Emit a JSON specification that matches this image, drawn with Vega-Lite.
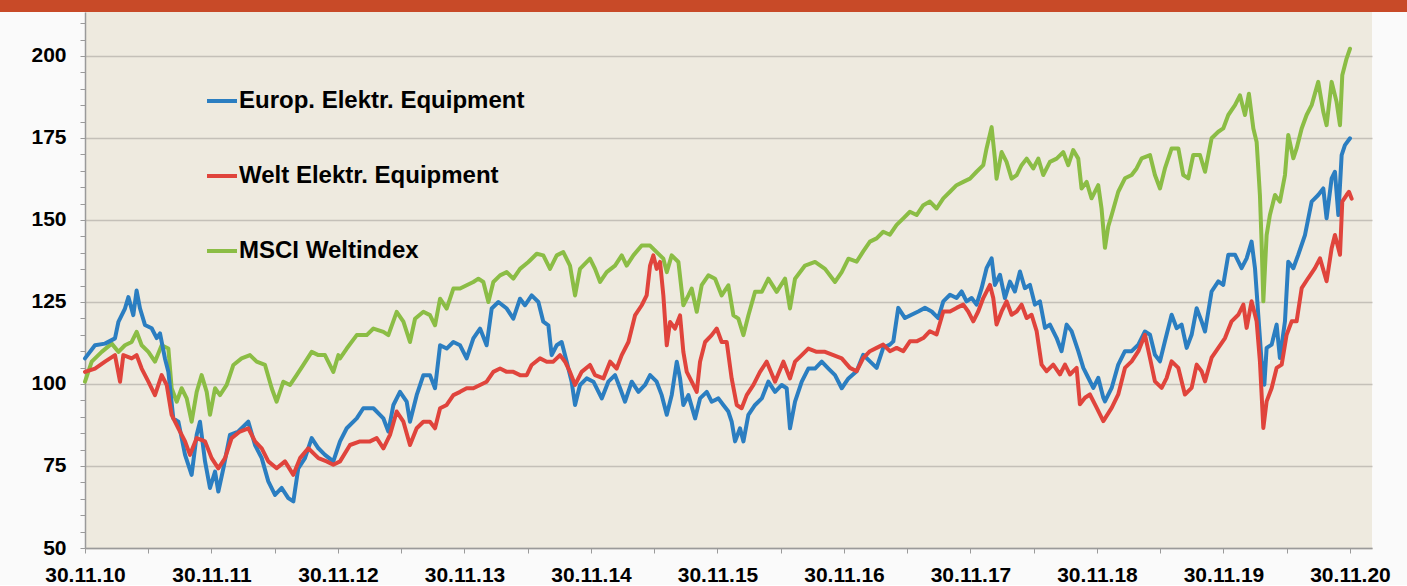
{
  "$schema": "https://vega.github.io/schema/vega-lite/v6.json",
  "background": "#FAFAFA",
  "padding": 0,
  "spacing": 0,
  "config": {"view": {"stroke": null}, "concat": {"spacing": 0}},
  "datasets": {
    "europ": [
      {"t":0,"v":107.8},{"t":0.079,"v":111.8},{"t":0.158,"v":112.3},{"t":0.237,"v":113.9},{"t":0.264,"v":118.9},{"t":0.316,"v":123},{"t":0.343,"v":126.5},{"t":0.382,"v":121},{"t":0.408,"v":128.5},{"t":0.435,"v":123},{"t":0.474,"v":118},{"t":0.527,"v":117},{"t":0.567,"v":114},{"t":0.593,"v":115.4},{"t":0.632,"v":107.8},{"t":0.659,"v":103.7},{"t":0.698,"v":89.5},{"t":0.738,"v":88.5},{"t":0.791,"v":78.4},{"t":0.843,"v":72.3},{"t":0.883,"v":84.5},{"t":0.909,"v":88.5},{"t":0.949,"v":76.4},{"t":0.988,"v":68.3},{"t":1.028,"v":73.3},{"t":1.054,"v":67.2},{"t":1.094,"v":74.3},{"t":1.146,"v":84.5},{"t":1.212,"v":85.5},{"t":1.291,"v":88.5},{"t":1.344,"v":81.4},{"t":1.397,"v":77.4},{"t":1.449,"v":70.3},{"t":1.502,"v":66.2},{"t":1.555,"v":68.3},{"t":1.607,"v":65.2},{"t":1.647,"v":64.2},{"t":1.686,"v":74.3},{"t":1.739,"v":77.4},{"t":1.792,"v":83.5},{"t":1.845,"v":80.4},{"t":1.897,"v":78.4},{"t":1.963,"v":76.4},
      {"t":2.016,"v":82.5},{"t":2.069,"v":86.5},{"t":2.148,"v":89.5},{"t":2.2,"v":92.6},{"t":2.28,"v":92.6},{"t":2.359,"v":89.5},{"t":2.398,"v":85.5},{"t":2.438,"v":93.6},{"t":2.49,"v":97.6},{"t":2.543,"v":94.6},{"t":2.569,"v":88.5},{"t":2.622,"v":96.6},{"t":2.675,"v":102.7},{"t":2.727,"v":102.7},{"t":2.767,"v":98.7},{"t":2.807,"v":111.8},{"t":2.859,"v":110.8},{"t":2.912,"v":112.8},{"t":2.965,"v":111.8},{"t":3.017,"v":107.8},{"t":3.07,"v":113.9},{"t":3.123,"v":116.9},{"t":3.175,"v":111.8},{"t":3.215,"v":123},{"t":3.268,"v":125},{"t":3.334,"v":123},{"t":3.386,"v":119.9},{"t":3.439,"v":126},{"t":3.478,"v":124},{"t":3.531,"v":127},{"t":3.584,"v":125},{"t":3.623,"v":119},{"t":3.663,"v":117.9},{"t":3.689,"v":108.8},{"t":3.729,"v":111.8},{"t":3.768,"v":112.8},{"t":3.808,"v":106.8},{"t":3.847,"v":100.7},{"t":3.874,"v":93.6},{"t":3.913,"v":99.7},{"t":3.966,"v":101.7},{"t":4.019,"v":100.7},
      {"t":4.085,"v":95.6},{"t":4.137,"v":100.7},{"t":4.19,"v":102.7},{"t":4.23,"v":98.7},{"t":4.269,"v":94.6},{"t":4.322,"v":100.7},{"t":4.375,"v":97.6},{"t":4.427,"v":99.7},{"t":4.467,"v":102.7},{"t":4.519,"v":100.7},{"t":4.559,"v":96.6},{"t":4.599,"v":90.6},{"t":4.638,"v":96.6},{"t":4.678,"v":106.8},{"t":4.704,"v":101.7},{"t":4.73,"v":93.6},{"t":4.77,"v":96.6},{"t":4.823,"v":89.5},{"t":4.862,"v":95.6},{"t":4.915,"v":97.6},{"t":4.954,"v":94.6},{"t":5.007,"v":95.6},{"t":5.046,"v":93.6},{"t":5.086,"v":91.6},{"t":5.112,"v":88.5},{"t":5.139,"v":82.5},{"t":5.178,"v":86.5},{"t":5.205,"v":82.5},{"t":5.244,"v":90.6},{"t":5.297,"v":93.6},{"t":5.35,"v":95.6},{"t":5.402,"v":100.7},{"t":5.455,"v":97.6},{"t":5.508,"v":99.7},{"t":5.547,"v":98.7},{"t":5.573,"v":86.5},{"t":5.613,"v":94.6},{"t":5.666,"v":100.7},{"t":5.718,"v":104.7},{"t":5.771,"v":104.7},{"t":5.824,"v":106.8},{"t":5.877,"v":104.7},{"t":5.929,"v":102.7},{"t":5.982,"v":98.7},{"t":6.035,"v":101.7},
      {"t":6.1,"v":103.9},{"t":6.152,"v":108.9},{"t":6.205,"v":106.9},{"t":6.258,"v":104.9},{"t":6.31,"v":111},{"t":6.363,"v":112},{"t":6.39,"v":113},{"t":6.429,"v":123.2},{"t":6.482,"v":120.1},{"t":6.534,"v":121.1},{"t":6.587,"v":122.1},{"t":6.64,"v":123.2},{"t":6.693,"v":122.1},{"t":6.745,"v":120.1},{"t":6.785,"v":125.2},{"t":6.838,"v":127.2},{"t":6.89,"v":126.2},{"t":6.93,"v":128.2},{"t":6.969,"v":125.2},{"t":7.009,"v":126.2},{"t":7.048,"v":124.2},{"t":7.088,"v":129.2},{"t":7.127,"v":135.3},{"t":7.167,"v":138.3},{"t":7.193,"v":130.2},{"t":7.233,"v":133.3},{"t":7.272,"v":126.2},{"t":7.312,"v":131.2},{"t":7.351,"v":128.2},{"t":7.391,"v":134.3},{"t":7.43,"v":129.2},{"t":7.47,"v":130.2},{"t":7.509,"v":124.2},{"t":7.549,"v":125.2},{"t":7.589,"v":117.1},{"t":7.628,"v":118.1},{"t":7.681,"v":114},{"t":7.72,"v":110},{"t":7.76,"v":118.1},{"t":7.799,"v":116.1},{"t":7.852,"v":110},{"t":7.892,"v":104.9},{"t":7.931,"v":101.9},{"t":7.971,"v":98.8},{"t":8.01,"v":101.9},{"t":8.05,"v":95.8},
      {"t":8.063,"v":94.7},{"t":8.116,"v":98.8},{"t":8.168,"v":105.9},{"t":8.221,"v":110},{"t":8.274,"v":110},{"t":8.327,"v":112},{"t":8.379,"v":116},{"t":8.419,"v":115},{"t":8.458,"v":108.9},{"t":8.498,"v":106.9},{"t":8.537,"v":113},{"t":8.59,"v":121.1},{"t":8.63,"v":117},{"t":8.669,"v":118.1},{"t":8.709,"v":111},{"t":8.748,"v":115},{"t":8.788,"v":123.1},{"t":8.827,"v":119.1},{"t":8.854,"v":116},{"t":8.906,"v":128.2},{"t":8.959,"v":131.3},{"t":8.998,"v":130.2},{"t":9.038,"v":139.4},{"t":9.091,"v":139.4},{"t":9.143,"v":135.3},{"t":9.183,"v":138.3},{"t":9.222,"v":143.4},{"t":9.249,"v":135.3},{"t":9.275,"v":121.1},{"t":9.301,"v":106.9},{"t":9.323,"v":99.8},{"t":9.341,"v":111},{"t":9.381,"v":112},{"t":9.42,"v":118.1},{"t":9.446,"v":107.9},{"t":9.486,"v":119.1},{"t":9.512,"v":137.3},{"t":9.552,"v":135.3},{"t":9.591,"v":139.4},{"t":9.644,"v":145.4},{"t":9.697,"v":155.6},{"t":9.749,"v":157.6},{"t":9.789,"v":159.6},{"t":9.815,"v":150.5},{"t":9.855,"v":162.7},{"t":9.881,"v":164.7},{"t":9.908,"v":151.5},{"t":9.934,"v":169.8},{"t":9.96,"v":172.8},{"t":10,"v":174.9}
    ],
    "welt": [
      {"t":0,"v":103.7},{"t":0.079,"v":104.7},{"t":0.158,"v":106.8},{"t":0.237,"v":108.8},{"t":0.277,"v":100.7},{"t":0.303,"v":108.8},{"t":0.369,"v":107.8},{"t":0.408,"v":108.8},{"t":0.448,"v":104.7},{"t":0.501,"v":100.7},{"t":0.553,"v":96.6},{"t":0.606,"v":102.7},{"t":0.646,"v":99.7},{"t":0.685,"v":90.6},{"t":0.738,"v":86.5},{"t":0.791,"v":82.5},{"t":0.83,"v":78.4},{"t":0.883,"v":83.5},{"t":0.949,"v":82.5},{"t":1.001,"v":77.4},{"t":1.054,"v":74.3},{"t":1.107,"v":77.4},{"t":1.159,"v":83.5},{"t":1.225,"v":85.5},{"t":1.291,"v":86.5},{"t":1.344,"v":82.5},{"t":1.397,"v":80.4},{"t":1.449,"v":76.4},{"t":1.515,"v":74.3},{"t":1.581,"v":76.4},{"t":1.647,"v":72.3},{"t":1.7,"v":77.4},{"t":1.765,"v":80.4},{"t":1.845,"v":77.4},{"t":1.91,"v":76.4},{"t":1.963,"v":75.4},
      {"t":2.016,"v":76.4},{"t":2.095,"v":81.4},{"t":2.174,"v":82.5},{"t":2.253,"v":82.5},{"t":2.306,"v":83.5},{"t":2.359,"v":80.4},{"t":2.411,"v":84.5},{"t":2.464,"v":91.6},{"t":2.517,"v":88.5},{"t":2.569,"v":81.4},{"t":2.622,"v":86.5},{"t":2.675,"v":88.5},{"t":2.727,"v":88.5},{"t":2.767,"v":86.5},{"t":2.807,"v":92.6},{"t":2.859,"v":93.6},{"t":2.912,"v":96.6},{"t":2.965,"v":97.6},{"t":3.017,"v":98.7},{"t":3.07,"v":98.7},{"t":3.123,"v":99.7},{"t":3.175,"v":100.7},{"t":3.228,"v":103.7},{"t":3.281,"v":104.7},{"t":3.334,"v":103.7},{"t":3.386,"v":103.7},{"t":3.439,"v":102.7},{"t":3.492,"v":102.7},{"t":3.531,"v":105.8},{"t":3.597,"v":107.8},{"t":3.65,"v":106.8},{"t":3.702,"v":106.8},{"t":3.755,"v":108.8},{"t":3.795,"v":106.8},{"t":3.834,"v":103.7},{"t":3.874,"v":99.7},{"t":3.926,"v":103.7},{"t":3.992,"v":105.8},
      {"t":4.032,"v":102.7},{"t":4.098,"v":101.7},{"t":4.151,"v":106.8},{"t":4.203,"v":104.7},{"t":4.243,"v":108.8},{"t":4.296,"v":112.8},{"t":4.348,"v":120.9},{"t":4.401,"v":124},{"t":4.44,"v":127},{"t":4.467,"v":136.1},{"t":4.493,"v":139.2},{"t":4.519,"v":135.1},{"t":4.546,"v":137.2},{"t":4.572,"v":127},{"t":4.599,"v":111.8},{"t":4.625,"v":118.9},{"t":4.664,"v":116.9},{"t":4.704,"v":120.9},{"t":4.73,"v":109.8},{"t":4.757,"v":103.7},{"t":4.796,"v":100.7},{"t":4.836,"v":97.6},{"t":4.862,"v":106.8},{"t":4.902,"v":112.8},{"t":4.954,"v":114.9},{"t":4.994,"v":116.9},{"t":5.033,"v":112.8},{"t":5.073,"v":112.8},{"t":5.112,"v":101.7},{"t":5.152,"v":93.6},{"t":5.191,"v":92.6},{"t":5.231,"v":96.6},{"t":5.284,"v":99.7},{"t":5.336,"v":103.7},{"t":5.389,"v":106.8},{"t":5.455,"v":100.7},{"t":5.521,"v":106.8},{"t":5.573,"v":101.7},{"t":5.613,"v":106.8},{"t":5.666,"v":108.8},{"t":5.718,"v":110.8},{"t":5.784,"v":109.8},{"t":5.85,"v":109.8},{"t":5.916,"v":108.8},{"t":5.982,"v":107.8},
      {"t":6.047,"v":104.9},{"t":6.1,"v":103.9},{"t":6.152,"v":107.9},{"t":6.205,"v":110},{"t":6.258,"v":111},{"t":6.31,"v":112},{"t":6.363,"v":110},{"t":6.416,"v":111},{"t":6.469,"v":110},{"t":6.521,"v":113},{"t":6.574,"v":113},{"t":6.627,"v":114},{"t":6.679,"v":116.1},{"t":6.732,"v":115.1},{"t":6.785,"v":122.1},{"t":6.838,"v":122.1},{"t":6.89,"v":123.2},{"t":6.943,"v":124.2},{"t":6.982,"v":122.1},{"t":7.022,"v":119.1},{"t":7.061,"v":122.1},{"t":7.101,"v":126.2},{"t":7.154,"v":130.2},{"t":7.18,"v":126.2},{"t":7.206,"v":118.1},{"t":7.246,"v":122.1},{"t":7.285,"v":125.2},{"t":7.325,"v":121.1},{"t":7.365,"v":122.1},{"t":7.404,"v":124.2},{"t":7.444,"v":120.1},{"t":7.483,"v":121.1},{"t":7.523,"v":116.1},{"t":7.562,"v":105.9},{"t":7.602,"v":103.9},{"t":7.654,"v":105.9},{"t":7.707,"v":102.9},{"t":7.747,"v":105.9},{"t":7.786,"v":102.9},{"t":7.839,"v":104.9},{"t":7.865,"v":93.8},{"t":7.905,"v":95.8},{"t":7.944,"v":96.8},{"t":7.997,"v":92.8},{"t":8.05,"v":88.7},
      {"t":8.116,"v":92.7},{"t":8.168,"v":96.8},{"t":8.221,"v":104.9},{"t":8.274,"v":106.9},{"t":8.327,"v":110},{"t":8.379,"v":115},{"t":8.419,"v":107.9},{"t":8.458,"v":100.8},{"t":8.511,"v":98.8},{"t":8.55,"v":101.8},{"t":8.59,"v":106.9},{"t":8.643,"v":104.9},{"t":8.695,"v":96.8},{"t":8.748,"v":98.8},{"t":8.788,"v":105.9},{"t":8.827,"v":103.9},{"t":8.854,"v":100.8},{"t":8.906,"v":108},{"t":8.959,"v":111},{"t":9.012,"v":114},{"t":9.064,"v":119.1},{"t":9.117,"v":121.1},{"t":9.157,"v":124.2},{"t":9.183,"v":117.1},{"t":9.222,"v":125.2},{"t":9.262,"v":119.1},{"t":9.288,"v":106.9},{"t":9.315,"v":86.6},{"t":9.341,"v":94.7},{"t":9.381,"v":98.8},{"t":9.42,"v":104.9},{"t":9.46,"v":105.9},{"t":9.499,"v":115},{"t":9.539,"v":119.1},{"t":9.578,"v":119.1},{"t":9.618,"v":129.2},{"t":9.67,"v":132.3},{"t":9.723,"v":135.3},{"t":9.763,"v":138.3},{"t":9.815,"v":131.3},{"t":9.855,"v":141.4},{"t":9.881,"v":145.4},{"t":9.921,"v":139.4},{"t":9.939,"v":155.6},{"t":9.973,"v":157.6},{"t":9.992,"v":158.6},{"t":10.013,"v":156.5}
    ],
    "msci": [
      {"t":0,"v":100.7},{"t":0.053,"v":106.8},{"t":0.132,"v":109.8},{"t":0.211,"v":112.3},{"t":0.264,"v":109.8},{"t":0.316,"v":111.8},{"t":0.369,"v":112.8},{"t":0.408,"v":115.9},{"t":0.448,"v":111.8},{"t":0.501,"v":109.8},{"t":0.553,"v":106.8},{"t":0.606,"v":111.8},{"t":0.659,"v":110.8},{"t":0.685,"v":98.7},{"t":0.725,"v":94.6},{"t":0.764,"v":98.7},{"t":0.804,"v":95.6},{"t":0.843,"v":88.5},{"t":0.883,"v":97.6},{"t":0.922,"v":102.7},{"t":0.962,"v":97.6},{"t":0.988,"v":90.6},{"t":1.028,"v":98.7},{"t":1.067,"v":96.6},{"t":1.12,"v":99.7},{"t":1.173,"v":105.8},{"t":1.238,"v":107.8},{"t":1.304,"v":108.8},{"t":1.357,"v":106.8},{"t":1.423,"v":105.8},{"t":1.476,"v":98.7},{"t":1.515,"v":94.6},{"t":1.568,"v":100.7},{"t":1.621,"v":99.7},{"t":1.673,"v":102.7},{"t":1.726,"v":105.8},{"t":1.792,"v":109.8},{"t":1.845,"v":108.8},{"t":1.897,"v":108.8},{"t":1.963,"v":103.7},{"t":2.003,"v":108.8},
      {"t":2.016,"v":107.8},{"t":2.069,"v":110.8},{"t":2.148,"v":114.9},{"t":2.227,"v":114.9},{"t":2.28,"v":116.9},{"t":2.359,"v":115.9},{"t":2.398,"v":114.9},{"t":2.464,"v":122},{"t":2.517,"v":119},{"t":2.569,"v":112.8},{"t":2.609,"v":119.9},{"t":2.675,"v":122},{"t":2.727,"v":121},{"t":2.767,"v":117.9},{"t":2.807,"v":126},{"t":2.859,"v":123},{"t":2.912,"v":129.1},{"t":2.965,"v":129.1},{"t":3.017,"v":130.1},{"t":3.07,"v":131.1},{"t":3.11,"v":132.1},{"t":3.149,"v":131.1},{"t":3.189,"v":125},{"t":3.228,"v":131.1},{"t":3.281,"v":133.1},{"t":3.334,"v":134.1},{"t":3.386,"v":132.1},{"t":3.439,"v":135.1},{"t":3.505,"v":137.2},{"t":3.571,"v":139.7},{"t":3.623,"v":139.2},{"t":3.676,"v":135.1},{"t":3.729,"v":139.2},{"t":3.781,"v":140.2},{"t":3.834,"v":136.1},{"t":3.874,"v":127},{"t":3.913,"v":135.1},{"t":3.992,"v":138.2},
      {"t":4.032,"v":135.1},{"t":4.072,"v":131.1},{"t":4.124,"v":134.1},{"t":4.19,"v":136.1},{"t":4.243,"v":139.2},{"t":4.282,"v":136.1},{"t":4.335,"v":139.2},{"t":4.401,"v":142.2},{"t":4.467,"v":142.2},{"t":4.519,"v":140.2},{"t":4.572,"v":138.2},{"t":4.599,"v":134.1},{"t":4.638,"v":139.2},{"t":4.691,"v":137.2},{"t":4.73,"v":124},{"t":4.77,"v":127},{"t":4.796,"v":129.1},{"t":4.836,"v":122},{"t":4.875,"v":130.1},{"t":4.928,"v":133.1},{"t":4.981,"v":132.1},{"t":5.033,"v":127},{"t":5.086,"v":130.1},{"t":5.126,"v":120.9},{"t":5.165,"v":119.9},{"t":5.205,"v":114.9},{"t":5.244,"v":120.9},{"t":5.297,"v":128.1},{"t":5.35,"v":128.1},{"t":5.402,"v":132.1},{"t":5.468,"v":128.1},{"t":5.534,"v":132.1},{"t":5.573,"v":123},{"t":5.613,"v":132.1},{"t":5.692,"v":136.1},{"t":5.771,"v":137.2},{"t":5.85,"v":135.1},{"t":5.929,"v":131.1},{"t":5.982,"v":134.1},{"t":6.035,"v":138.2},
      {"t":6.1,"v":137.3},{"t":6.152,"v":140.4},{"t":6.205,"v":143.4},{"t":6.258,"v":144.4},{"t":6.31,"v":146.4},{"t":6.363,"v":145.5},{"t":6.416,"v":148.5},{"t":6.469,"v":150.5},{"t":6.521,"v":152.5},{"t":6.574,"v":151.5},{"t":6.627,"v":154.5},{"t":6.679,"v":155.6},{"t":6.732,"v":153.5},{"t":6.785,"v":156.6},{"t":6.838,"v":158.6},{"t":6.89,"v":160.6},{"t":6.943,"v":161.6},{"t":6.996,"v":162.6},{"t":7.048,"v":164.7},{"t":7.101,"v":166.7},{"t":7.127,"v":171.8},{"t":7.167,"v":178.3},{"t":7.193,"v":168.7},{"t":7.206,"v":162.6},{"t":7.246,"v":170.7},{"t":7.285,"v":167.7},{"t":7.325,"v":162.6},{"t":7.365,"v":163.7},{"t":7.404,"v":166.7},{"t":7.444,"v":168.7},{"t":7.496,"v":165.7},{"t":7.536,"v":168.7},{"t":7.575,"v":163.7},{"t":7.628,"v":167.7},{"t":7.681,"v":168.7},{"t":7.733,"v":170.7},{"t":7.773,"v":166.7},{"t":7.812,"v":171.3},{"t":7.852,"v":168.7},{"t":7.878,"v":159.6},{"t":7.918,"v":161.6},{"t":7.957,"v":156.6},{"t":8.01,"v":160.6},{"t":8.036,"v":153.5},{"t":8.063,"v":141.5},{"t":8.089,"v":148},
      {"t":8.116,"v":151.5},{"t":8.168,"v":158.6},{"t":8.221,"v":162.7},{"t":8.274,"v":163.7},{"t":8.313,"v":165.7},{"t":8.353,"v":168.8},{"t":8.419,"v":169.8},{"t":8.458,"v":163.7},{"t":8.498,"v":159.6},{"t":8.537,"v":165.7},{"t":8.59,"v":171.8},{"t":8.643,"v":171.8},{"t":8.682,"v":163.7},{"t":8.722,"v":162.7},{"t":8.761,"v":169.8},{"t":8.814,"v":169.8},{"t":8.854,"v":164.7},{"t":8.906,"v":174.9},{"t":8.959,"v":176.9},{"t":8.998,"v":177.9},{"t":9.038,"v":182},{"t":9.091,"v":185},{"t":9.13,"v":188},{"t":9.17,"v":182},{"t":9.201,"v":188.5},{"t":9.236,"v":177.9},{"t":9.262,"v":173.8},{"t":9.275,"v":165.7},{"t":9.288,"v":157.6},{"t":9.301,"v":143.4},{"t":9.315,"v":125.2},{"t":9.328,"v":135.3},{"t":9.341,"v":145.4},{"t":9.367,"v":151.5},{"t":9.407,"v":157.6},{"t":9.446,"v":155.6},{"t":9.486,"v":163.7},{"t":9.512,"v":175.9},{"t":9.552,"v":168.8},{"t":9.578,"v":171.8},{"t":9.618,"v":177.9},{"t":9.657,"v":182},{"t":9.697,"v":185},{"t":9.749,"v":192.1},{"t":9.789,"v":183},{"t":9.815,"v":178.9},{"t":9.855,"v":192.1},{"t":9.894,"v":186},{"t":9.921,"v":178.9},{"t":9.939,"v":194.1},{"t":9.973,"v":199.2},{"t":10,"v":202.2}
    ]
  },
  "vconcat": [
    {
      "width": 1407,
      "height": 12,
      "data": {"values": [{"balken": "Kopfzeile"}]},
      "mark": {"type": "rect", "color": "#C84A28"},
      "encoding": {}
    },
    {
      "spacing": 0,
      "hconcat": [
        {
          "width": 1,
          "height": 536,
          "data": {"values": [{"balken": "Rand"}]},
          "mark": {"type": "rect", "fillOpacity": 0, "strokeOpacity": 0},
          "encoding": {}
        },
        {
          "width": 1287,
          "height": 536,
          "view": {"fill": "#EEEADF", "stroke": null},
          "encoding": {
            "x": {
              "field": "t", "type": "quantitative",
              "scale": {"domain": [0, 10.174], "nice": false, "zero": false},
              "axis": {
                "title": null, "grid": false,
                "values": [0,0.5,1,1.5,2,2.5,3,3.5,4,4.5,5,5.5,6,6.5,7,7.5,8,8.5,9,9.5,10],
                "labelExpr": "datum.value % 1 === 0 ? '30.11.' + (10 + datum.value) : ''",
                "labelFont": "Liberation Sans", "labelFontWeight": "bold", "labelFontSize": 21, "labelColor": "#000",
                "labelPadding": 11, "labelFlush": false, "labelOverlap": false,
                "tickSize": 5, "tickColor": "#9A9A9A", "domainColor": "#9A9A9A", "domainWidth": 1.5
              }
            },
            "y": {
              "field": "v", "type": "quantitative",
              "scale": {"domain": [50, 213.4], "nice": false, "zero": false},
              "axis": {
                "title": null,
                "values": [50,55,60,65,70,75,80,85,90,95,100,105,110,115,120,125,130,135,140,145,150,155,160,165,170,175,180,185,190,195,200,205,210],
                "labelExpr": "datum.value % 25 === 0 ? datum.label : ''",
                "labelFont": "Liberation Sans", "labelFontWeight": "bold", "labelFontSize": 21, "labelColor": "#000",
                "labelPadding": 14, "labelOverlap": false, "minExtent": 84,
                "tickSize": 5, "tickColor": "#9A9A9A", "domainColor": "#9A9A9A", "domainWidth": 1.5,
                "grid": true, "gridWidth": 1.5,
                "gridColor": {"condition": {"test": "datum.value % 25 === 0", "value": "#C4C0B8"}, "value": "transparent"}
              }
            }
          },
          "layer": [
            {
              "data": {"name": "msci"},
              "mark": {"type": "line", "strokeWidth": 4, "strokeJoin": "round", "strokeCap": "round"},
              "encoding": {
                "color": {
                  "datum": "MSCI Weltindex", "type": "nominal",
                  "scale": {"domain": ["Europ. Elektr. Equipment", "Welt  Elektr. Equipment", "MSCI Weltindex"], "range": ["#2B7EC1", "#E0443C", "#8BBD45"]},
                  "legend": {
                    "title": null, "orient": "none", "legendX": 205, "legendY": 84,
                    "symbolType": "stroke", "symbolStrokeWidth": 4, "symbolSize": 900,
                    "labelFont": "Liberation Sans", "labelFontWeight": "bold", "labelFontSize": 24, "labelColor": "#000",
                    "labelOffset": 0, "rowPadding": 46, "labelLimit": 500
                  }
                }
              }
            },
            {
              "data": {"name": "europ"},
              "mark": {"type": "line", "strokeWidth": 4, "strokeJoin": "round", "strokeCap": "round"},
              "encoding": {"color": {"datum": "Europ. Elektr. Equipment", "type": "nominal"}}
            },
            {
              "data": {"name": "welt"},
              "mark": {"type": "line", "strokeWidth": 4, "strokeJoin": "round", "strokeCap": "round"},
              "encoding": {"color": {"datum": "Welt  Elektr. Equipment", "type": "nominal"}}
            }
          ]
        }
      ]
    }
  ]
}
